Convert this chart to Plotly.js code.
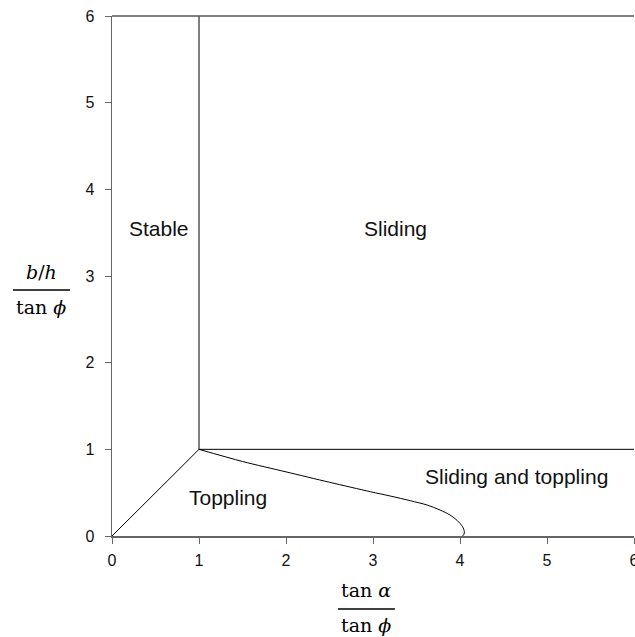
<!DOCTYPE html>
<html><head><meta charset="utf-8">
<script src="https://cdn.plot.ly/plotly-3.0.1.min.js"></script>
<style>body{margin:0;background:#fff}#c{width:635px;height:637px}</style>
</head><body><div id="c"></div>
<script>
// Boundary lines
const stableX = [1, 1];
const stableY = [1, 6];
const slideX = [1, 6];
const slideY = [1, 1];
const diagX = [0, 1];
const diagY = [0, 1];
// Toppling / sliding-and-toppling boundary curve
const curveX = [1.0, 1.5, 2.0, 2.5, 2.97, 3.2, 3.43, 3.62, 3.77, 3.885, 3.97, 4.03, 4.05, 4.045, 4.03];
const curveY = [1.0, 0.86, 0.74, 0.62, 0.511, 0.461, 0.407, 0.358, 0.30, 0.242, 0.177, 0.107, 0.05, 0.02, 0.0];
// Region labels
const regionText = ["Stable", "Sliding", "Sliding and toppling", "Toppling"];
const regionX = [0.535, 3.264, 4.655, 1.328];
const regionY = [3.55, 3.55, 0.69, 0.44];
const tickVals = [0, 1, 2, 3, 4, 5, 6];

const lineStyle = {color: '#000', width: 1};
const traces = [
  {x: stableX, y: stableY},
  {x: slideX, y: slideY},
  {x: diagX, y: diagY},
  {x: curveX, y: curveY, line: {color: '#000', width: 1, shape: 'spline', smoothing: 0.8}}
].map(t => Object.assign({type: 'scatter', mode: 'lines', line: lineStyle, hoverinfo: 'skip', cliponaxis: false}, t));

const serif = 'DejaVu Serif, Liberation Serif, serif';
const annotations = regionText.map((t, i) => ({
  x: regionX[i], y: regionY[i], xref: 'x', yref: 'y', text: t, showarrow: false,
  xanchor: 'center', yanchor: 'middle',
  font: {family: 'Liberation Sans, Arial, sans-serif', size: 21, color: '#111'}
}));
const titleFont = {family: serif, size: 19, color: '#000'};
annotations.push(
  {xref: 'paper', yref: 'paper', x: -0.136, y: 0.5077, text: '<i>b</i>/<i>h</i>', showarrow: false, xanchor: 'center', yanchor: 'middle', font: titleFont},
  {xref: 'paper', yref: 'paper', x: -0.136, y: 0.4404, text: 'tan <i>ϕ</i>', showarrow: false, xanchor: 'center', yanchor: 'middle', font: titleFont},
  {xref: 'paper', yref: 'paper', x: 0.4875, y: -0.1038, text: 'tan <i>α</i>', showarrow: false, xanchor: 'center', yanchor: 'middle', font: titleFont},
  {xref: 'paper', yref: 'paper', x: 0.4875, y: -0.1712, text: 'tan <i>ϕ</i>', showarrow: false, xanchor: 'center', yanchor: 'middle', font: titleFont}
);

const axisCommon = {
  range: [0, 6], tickvals: tickVals, showgrid: false, zeroline: false, showline: true,
  linecolor: '#666', linewidth: 1.5, ticks: 'outside', ticklen: 6, tickcolor: '#666', tickwidth: 1,
  tickfont: {size: 16, color: '#111'}, fixedrange: true, ticklabeloverflow: 'allow'
};

const layout = {
  width: 635, height: 637,
  margin: {l: 112, r: 1, t: 16, b: 101},
  paper_bgcolor: '#fff', plot_bgcolor: '#fff',
  showlegend: false,
  font: {family: 'Liberation Sans, Arial, sans-serif', size: 16, color: '#000'},
  xaxis: Object.assign({}, axisCommon, {ticklabelstandoff: 3}),
  yaxis: Object.assign({}, axisCommon, {ticklabelstandoff: 7}),
  shapes: [
    {type: 'line', xref: 'paper', yref: 'paper', x0: 0, x1: 1, y0: 1, y1: 1, line: {color: '#555', width: 1.5}},
    {type: 'line', xref: 'paper', yref: 'paper', x0: -0.1897, x1: -0.0805, y0: 0.473, y1: 0.473, line: {color: '#000', width: 1.5}},
    {type: 'line', xref: 'paper', yref: 'paper', x0: 0.433, x1: 0.542, y0: -0.1404, y1: -0.1404, line: {color: '#000', width: 1.5}}
  ],
  annotations: annotations
};
Plotly.newPlot('c', traces, layout, {displayModeBar: false, staticPlot: true});
</script>
</body></html>
